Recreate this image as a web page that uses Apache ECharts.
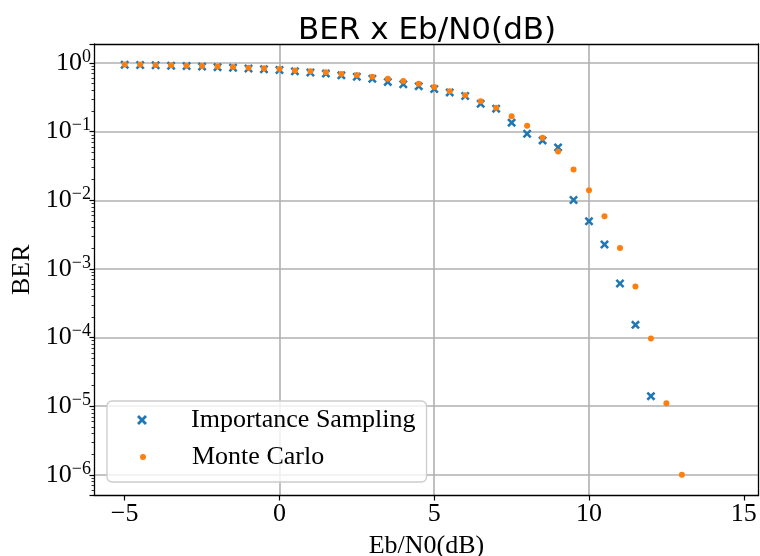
<!DOCTYPE html>
<html>
<head>
<meta charset="utf-8">
<script src="https://cdn.jsdelivr.net/npm/echarts@6/dist/echarts.min.js"></script>
<style>
  html, body { margin: 0; padding: 0; background: #fff; }
  #charts { width: 760px; height: 556px; }
</style>
</head>
<body>
<div id="charts"></div>
<script>
// The container we're going to put it in
var berChart = echarts.init(document.getElementById('charts'));

// Eb/N0 steps (dB) and the BER
var ebN0IS = [-5, -4.5, -4, -3.5, -3, -2.5, -2, -1.5, -1, -0.5, 0, 0.5, 1, 1.5, 2, 2.5, 3, 3.5,
    4, 4.5, 5, 5.5, 6, 6.5, 7, 7.5, 8, 8.5, 9, 9.5, 10, 10.5, 11, 11.5, 12];
var berIS = [0.94, 0.935, 0.925, 0.91, 0.90, 0.885, 0.87, 0.85, 0.83, 0.81, 0.79, 0.755, 0.725, 0.70,
    0.66, 0.63, 0.59, 0.53, 0.49, 0.46, 0.417, 0.373, 0.33, 0.255, 0.216, 0.135, 0.093, 0.0745,
    0.0589, 0.0101, 0.00494, 0.00227, 6.13e-4, 1.53e-4, 1.40e-5];

var ebN0MC = [-5, -4.5, -4, -3.5, -3, -2.5, -2, -1.5, -1, -0.5, 0, 0.5, 1, 1.5, 2, 2.5, 3, 3.5,
    4, 4.5, 5, 5.5, 6, 6.5, 7, 7.5, 8, 8.5, 9, 9.5, 10, 10.5, 11, 11.5, 12, 12.5, 13];
var berMC = [0.95, 0.95, 0.935, 0.925, 0.915, 0.90, 0.89, 0.873, 0.855, 0.836, 0.816, 0.78, 0.755,
    0.73, 0.69, 0.667, 0.63, 0.59, 0.546, 0.50, 0.447, 0.386, 0.338, 0.276, 0.223, 0.168, 0.122,
    0.0815, 0.0514, 0.028, 0.014, 0.00585, 0.00202, 5.55e-4, 9.7e-5, 1.1e-5, 1.0e-6];

var xTicks = [-5, 0, 5, 10, 15];

var serif = '"Liberation Serif", "Times New Roman", serif';
var blue = '#1f77b4';
var orange = '#ff7f0e';
var xMark = 'path://M0,0.2L0.2,0L0.5,0.3L0.8,0L1,0.2L0.7,0.5L1,0.8L0.8,1L0.5,0.7L0.2,1L0,0.8L0.3,0.5Z';

function pairs(xs, ys) {
    var out = [];
    for (var i = 0; i < xs.length; i++) {
        out.push([xs[i], ys[i]]);
    }
    return out;
}

function powerLabel(value) {
    var exp = Math.round(Math.log(value) / Math.LN10);
    return '{b|10}{s|' + String(exp).replace('-', '\u2212') + '}';
}

var frameLine = { show: true, onZero: false, lineStyle: { color: '#000', width: 1.3 } };

var option = {
    animation: false,
    backgroundColor: '#fff',
    title: {
        text: 'BER x Eb/N0(dB)',
        left: 298,
        top: 15,
        padding: 0,
        textStyle: {
            fontFamily: '"DejaVu Sans", sans-serif',
            fontSize: 31,
            fontWeight: 'normal',
            color: '#000'
        }
    },
    grid: {
        left: 94.5,
        right: 1.5,
        top: 44,
        bottom: 60.5,
        containLabel: false,
        outerBoundsMode: 'none'
    },
    legend: [
        {
            data: ['Importance Sampling'],
            orient: 'vertical',
            left: 107,
            top: 401,
            padding: [6, 11, 49, 30],
            itemWidth: 10,
            itemHeight: 10,
            backgroundColor: 'rgba(255,255,255,0.8)',
            borderColor: '#cccccc',
            borderWidth: 1.3,
            borderRadius: 5,
            formatter: '{t|{name}}',
            textStyle: {
                rich: { t: { fontFamily: serif, fontSize: 26, color: '#000', padding: [0, 0, 0, 39] } }
            }
        },
        {
            data: ['Monte Carlo'],
            orient: 'vertical',
            left: 140,
            top: 444,
            padding: 0,
            itemWidth: 6,
            itemHeight: 6,
            formatter: '{t|{name}}',
            textStyle: {
                rich: { t: { fontFamily: serif, fontSize: 26, color: '#000', padding: [0, 0, 0, 41] } }
            }
        }
    ],
    xAxis: [
        {
            type: 'value',
            min: -5.975,
            max: 15.475,
            name: 'Eb/N0(dB)',
            nameLocation: 'middle',
            nameGap: 38,
            nameMoveOverlap: false,
            nameTextStyle: { fontFamily: serif, fontSize: 26, color: '#000' },
            axisLine: frameLine,
            axisTick: { show: true, length: 5, customValues: xTicks, lineStyle: { color: '#000', width: 1.2 } },
            axisLabel: {
                customValues: xTicks,
                margin: 6,
                fontFamily: serif,
                fontSize: 26,
                color: '#000',
                formatter: function (v) { return String(v).replace('-', '\u2212'); }
            },
            splitLine: { show: true, showMinLine: false, showMaxLine: false, lineStyle: { color: '#b0b0b0', width: 1.6 } }
        },
        {
            type: 'value',
            position: 'top',
            min: -5.975,
            max: 15.475,
            axisLine: frameLine,
            axisTick: { show: false },
            axisLabel: { show: false },
            splitLine: { show: false }
        }
    ],
    yAxis: [
        {
            type: 'log',
            min: 5.0e-7,
            max: 1.89,
            name: 'BER',
            nameLocation: 'middle',
            nameGap: 59,
            nameMoveOverlap: false,
            nameTextStyle: { fontFamily: serif, fontSize: 26, color: '#000' },
            axisLine: frameLine,
            axisTick: { show: true, length: 5, lineStyle: { color: '#000', width: 1.2 } },
            minorTick: { show: true, splitNumber: 9, length: 3, lineStyle: { color: '#000', width: 0.8 } },
            axisLabel: {
                showMinLabel: false,
                showMaxLabel: false,
                margin: 3.5,
                formatter: powerLabel,
                rich: {
                    b: { fontFamily: serif, fontSize: 26, color: '#000', lineHeight: 30 },
                    s: { fontFamily: serif, fontSize: 18, color: '#000', lineHeight: 16, verticalAlign: 'top' }
                }
            },
            splitLine: { show: true, showMinLine: false, showMaxLine: false, lineStyle: { color: '#b0b0b0', width: 1.6 } }
        },
        {
            type: 'log',
            position: 'right',
            min: 5.0e-7,
            max: 1.89,
            axisLine: frameLine,
            axisTick: { show: false },
            axisLabel: { show: false },
            splitLine: { show: false }
        }
    ],
    series: [
        {
            name: 'Importance Sampling',
            type: 'scatter',
            symbol: xMark,
            symbolSize: 9,
            itemStyle: { color: blue, opacity: 1 },
            data: pairs(ebN0IS, berIS)
        },
        {
            name: 'Monte Carlo',
            type: 'scatter',
            symbol: 'circle',
            symbolSize: 6,
            itemStyle: { color: orange, opacity: 1 },
            data: pairs(ebN0MC, berMC)
        }
    ]
};

berChart.setOption(option);
</script>
</body>
</html>
